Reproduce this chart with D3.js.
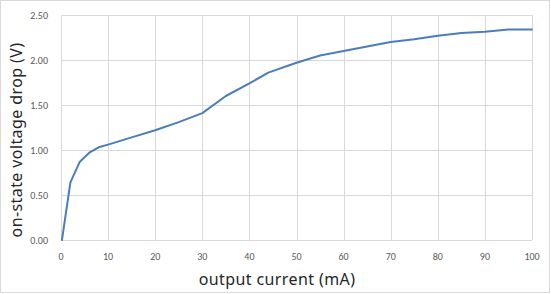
<!DOCTYPE html>
<html>
  <head>
    <script type="text/javascript" src="https://cdn.jsdelivr.net/npm/d3@7/dist/d3.min.js"></script>
    <style>
      body { margin: 0; background: #fff; }
    </style>
  </head>
  <body>
    <script type="text/javascript">
    // measured curve
    var currents = [0.2, 2, 4, 6, 8, 10, 15, 20, 25, 30, 35, 40, 44, 50, 55, 60, 65, 70, 75, 80, 85, 90, 95, 100];
    var voltages = [0, 0.64, 0.87, 0.97, 1.03, 1.06, 1.14, 1.22, 1.31, 1.41, 1.60, 1.74, 1.86, 1.97, 2.05, 2.10, 2.15, 2.20, 2.23, 2.27, 2.30, 2.315, 2.34, 2.34];
    var xTicks = [0, 10, 20, 30, 40, 50, 60, 70, 80, 90, 100];
    var yTicks = [0, 0.5, 1.0, 1.5, 2.0, 2.5];

    var W = 551, H = 294;
    var plotLeft = 61, plotRight = 532, plotTop = 15, plotBottom = 240;

    var svg = d3.select('body').append('svg')
                .attr('width', W)
                .attr('height', H);

    svg.append('rect')
       .attr('x', 0.5).attr('y', 0.5)
       .attr('width', 549).attr('height', 292)
       .attr('fill', '#fff')
       .attr('stroke', '#d9d9d9');

    var x = d3.scaleLinear().domain([0, 100]).range([plotLeft, plotRight]);
    var y = d3.scaleLinear().domain([0, 2.5]).range([plotBottom, plotTop]);

    // gridlines
    svg.append('g').selectAll('line')
       .data(xTicks).enter().append('line')
       .attr('x1', function(d) { return Math.round(x(d)) + 0.5; })
       .attr('x2', function(d) { return Math.round(x(d)) + 0.5; })
       .attr('y1', plotTop).attr('y2', plotBottom)
       .attr('stroke', '#d9d9d9');

    svg.append('g').selectAll('line')
       .data(yTicks).enter().append('line')
       .attr('x1', plotLeft).attr('x2', plotRight)
       .attr('y1', function(d) { return Math.round(y(d)) + 0.5; })
       .attr('y2', function(d) { return Math.round(y(d)) + 0.5; })
       .attr('stroke', '#d9d9d9');

    // tick labels
    svg.append('g').selectAll('text')
       .data(yTicks).enter().append('text')
       .attr('x', 48)
       .attr('y', function(d) { return y(d) + 3.5; })
       .attr('text-anchor', 'end')
       .style('font-family', 'Carlito, "Liberation Sans", sans-serif')
       .style('font-size', '10px')
       .style('fill', '#595959')
       .text(function(d) { return d3.format('.2f')(d); });

    svg.append('g').selectAll('text')
       .data(xTicks).enter().append('text')
       .attr('x', function(d) { return x(d); })
       .attr('y', 260)
       .attr('text-anchor', 'middle')
       .style('font-family', 'Carlito, "Liberation Sans", sans-serif')
       .style('font-size', '10px')
       .style('fill', '#595959')
       .text(function(d) { return d; });

    // axis titles
    svg.append('text')
       .attr('x', 277).attr('y', 285)
       .attr('text-anchor', 'middle')
       .style('font-family', '"Noto Sans", sans-serif')
       .style('font-size', '16px')
       .style('letter-spacing', '0.4px')
       .style('fill', '#262626')
       .text('output current (mA)');

    svg.append('text')
       .attr('transform', 'translate(22,140) rotate(-90)')
       .attr('text-anchor', 'middle')
       .style('font-family', '"Noto Sans", sans-serif')
       .style('font-size', '16px')
       .style('letter-spacing', '0.4px')
       .style('fill', '#262626')
       .text('on-state voltage drop (V)');

    // curve
    var pts = currents.map(function(c, i) { return [c, voltages[i]]; });
    var line = d3.line()
                 .x(function(d) { return x(d[0]); })
                 .y(function(d) { return y(d[1]); });

    svg.append('path')
       .datum(pts)
       .attr('d', line)
       .attr('fill', 'none')
       .attr('stroke', '#4a7ebb')
       .attr('stroke-width', 2)
       .attr('stroke-linejoin', 'round')
       .attr('stroke-linecap', 'round');
    </script>
  </body>
</html>
